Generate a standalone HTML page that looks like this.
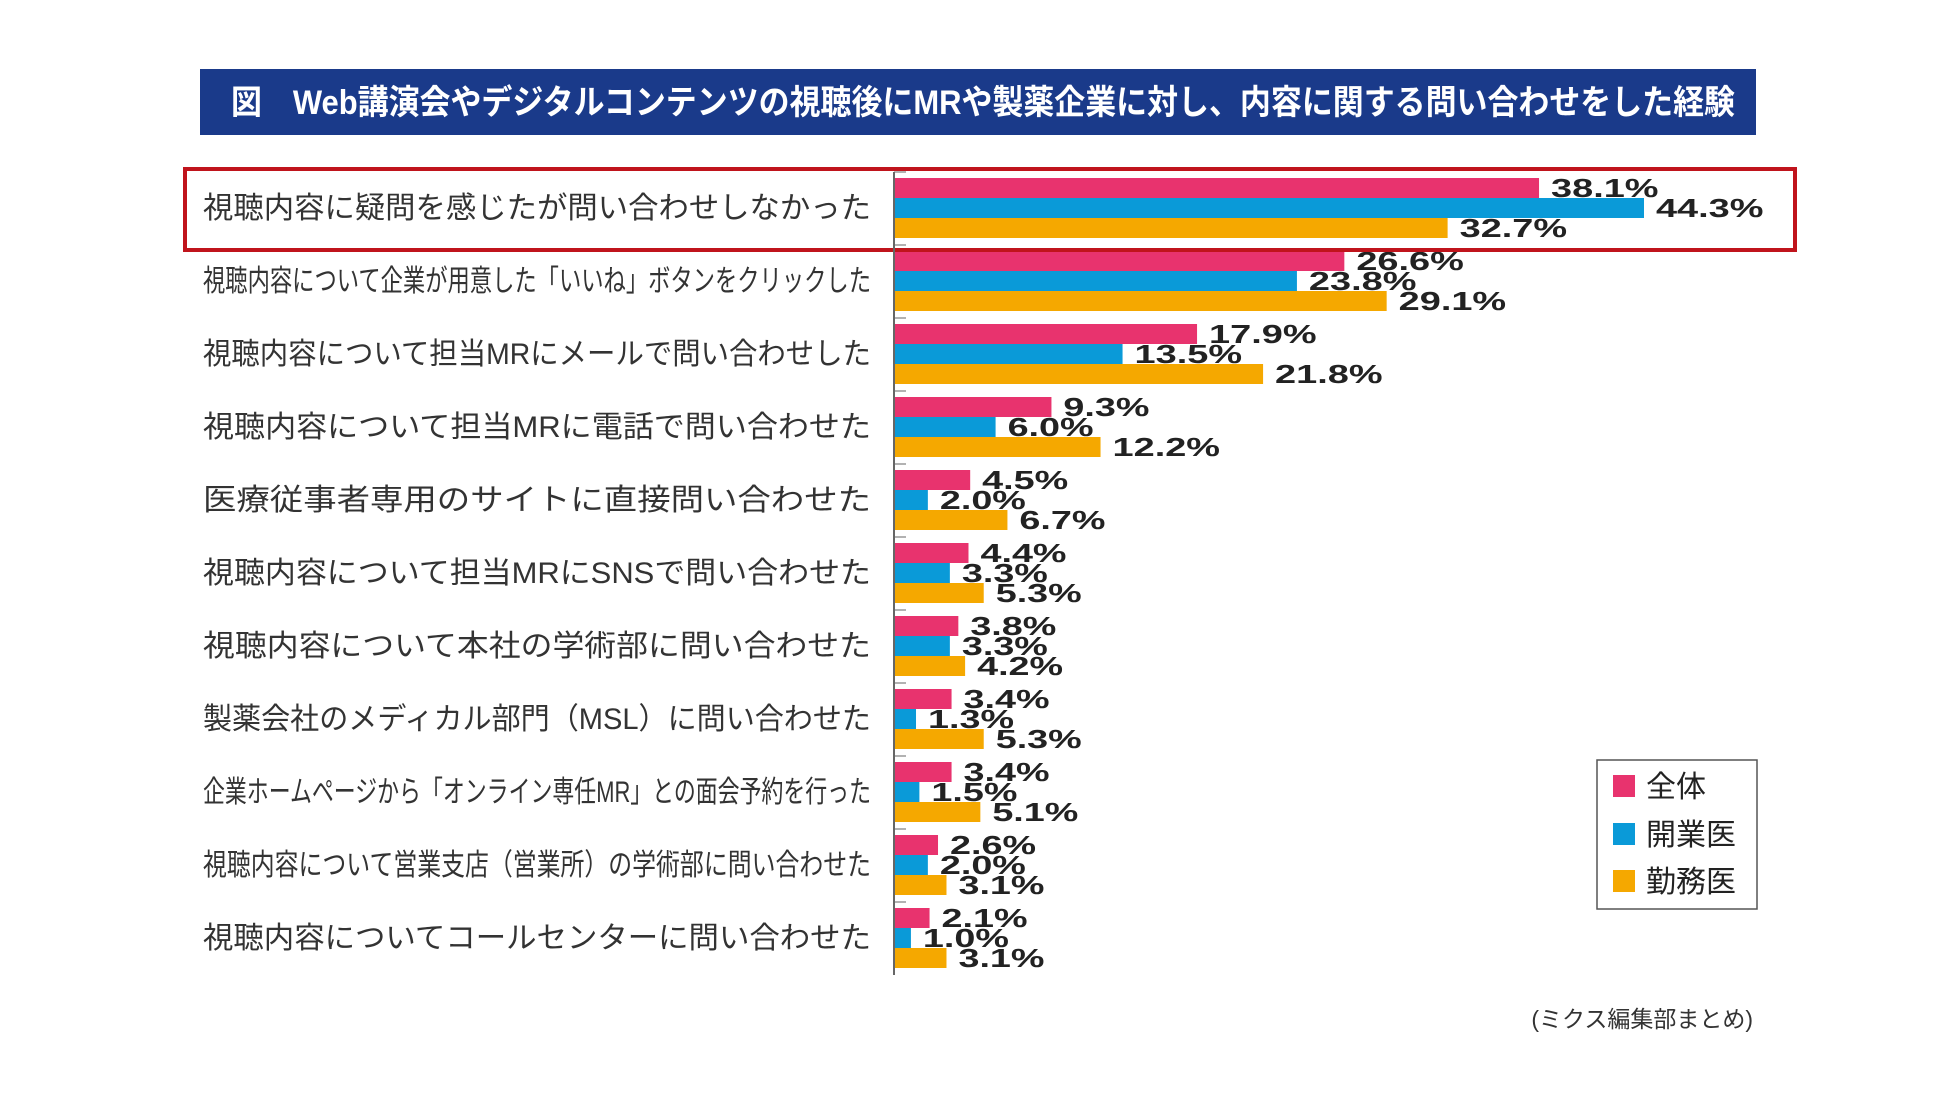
<!DOCTYPE html>
<html><head><meta charset="utf-8"><style>
html,body{margin:0;padding:0;background:#fff;}
svg{display:block;font-family:"Liberation Sans","Noto Sans CJK JP",sans-serif;}
</style></head><body>
<svg id="chart" width="1950" height="1097" viewBox="0 0 1950 1097">
<rect x="200" y="69" width="1556" height="66" fill="#1a3a8a"/>
<text x="231" y="114" fill="#fff" font-size="34" font-weight="bold" textLength="1504" lengthAdjust="spacingAndGlyphs">図　Web講演会やデジタルコンテンツの視聴後にMRや製薬企業に対し、内容に関する問い合わせをした経験</text>
<g id="bars"></g>
<rect x="185" y="169" width="1610" height="81" fill="none" stroke="#c0141c" stroke-width="4"/>
<line x1="894" y1="172" x2="894" y2="975" stroke="#666" stroke-width="2"/>
<g>
<rect x="1597" y="760" width="160" height="149" fill="#fff" stroke="#555" stroke-width="1.5"/>
<rect x="1613" y="775" width="22" height="22" fill="#e8336e"/>
<text x="1646" y="797" font-size="30" fill="#222">全体</text>
<rect x="1613" y="823" width="22" height="22" fill="#0a9ad8"/>
<text x="1646" y="845" font-size="30" fill="#222">開業医</text>
<rect x="1613" y="870" width="22" height="22" fill="#f5a800"/>
<text x="1646" y="892" font-size="30" fill="#222">勤務医</text>
</g>
<text x="1753" y="1027" font-size="23" fill="#333" text-anchor="end">(ミクス編集部まとめ)</text>
</svg>
<script>
const categories = ["視聴内容に疑問を感じたが問い合わせしなかった","視聴内容について企業が用意した「いいね」ボタンをクリックした","視聴内容について担当MRにメールで問い合わせした","視聴内容について担当MRに電話で問い合わせた","医療従事者専用のサイトに直接問い合わせた","視聴内容について担当MRにSNSで問い合わせた","視聴内容について本社の学術部に問い合わせた","製薬会社のメディカル部門（MSL）に問い合わせた","企業ホームページから「オンライン専任MR」との面会予約を行った","視聴内容について営業支店（営業所）の学術部に問い合わせた","視聴内容についてコールセンターに問い合わせた"];
const allValues = [38.1,26.6,17.9,9.3,4.5,4.4,3.8,3.4,3.4,2.6,2.1];
const practitionerValues = [44.3,23.8,13.5,6.0,2.0,3.3,3.3,1.3,1.5,2.0,1.0];
const employedValues = [32.7,29.1,21.8,12.2,6.7,5.3,4.2,5.3,5.1,3.1,3.1];
const seriesColors = ["#e8336e","#0a9ad8","#f5a800"];
const seriesNames = ["all","practitioner","employed"];
const NS = "http://www.w3.org/2000/svg";
const x0 = 894, pxPer = 16.93, groupTop = 178, groupStep = 73, barH = 20;
const xScale = v => x0 + v * pxPer;
const yScale = i => groupTop + i * groupStep;
const g = document.getElementById("bars");
const series = [allValues, practitionerValues, employedValues];
categories.forEach((c, i) => {
  const t = document.createElementNS(NS, "text");
  t.setAttribute("x", 871);
  t.setAttribute("y", yScale(i) + 40);
  t.setAttribute("text-anchor", "end");
  t.setAttribute("font-size", "30");
  t.setAttribute("fill", "#333");
  t.setAttribute("textLength", "668");
  t.setAttribute("lengthAdjust", "spacingAndGlyphs");
  t.textContent = c;
  
  
  g.appendChild(t);
  const tick = document.createElementNS(NS, "line");
  tick.setAttribute("x1", x0); tick.setAttribute("x2", x0 + 12);
  tick.setAttribute("y1", yScale(i) - 6); tick.setAttribute("y2", yScale(i) - 6);
  tick.setAttribute("stroke", "#666");
  
  
  g.appendChild(tick);
  series.forEach((vals, s) => {
    const y = yScale(i) + s * barH;
    const r = document.createElementNS(NS, "rect");
    r.setAttribute("x", x0);
    r.setAttribute("y", y);
    r.setAttribute("width", xScale(vals[i]) - x0);
    r.setAttribute("height", barH);
    r.setAttribute("fill", seriesColors[s]);
    
    
    g.appendChild(r);
    const v = document.createElementNS(NS, "text");
    const label = vals[i].toFixed(1) + "%";
    v.setAttribute("x", xScale(vals[i]) + 12);
    v.setAttribute("y", y + barH - 1);
    v.setAttribute("font-size", "26");
    v.setAttribute("font-weight", "bold");
    v.setAttribute("fill", "#222");
    v.setAttribute("textLength", String(label.length * 21.5));
    v.setAttribute("lengthAdjust", "spacingAndGlyphs");
    v.textContent = label;
    
    
    g.appendChild(v);
  });
});
</script>
</body></html>
